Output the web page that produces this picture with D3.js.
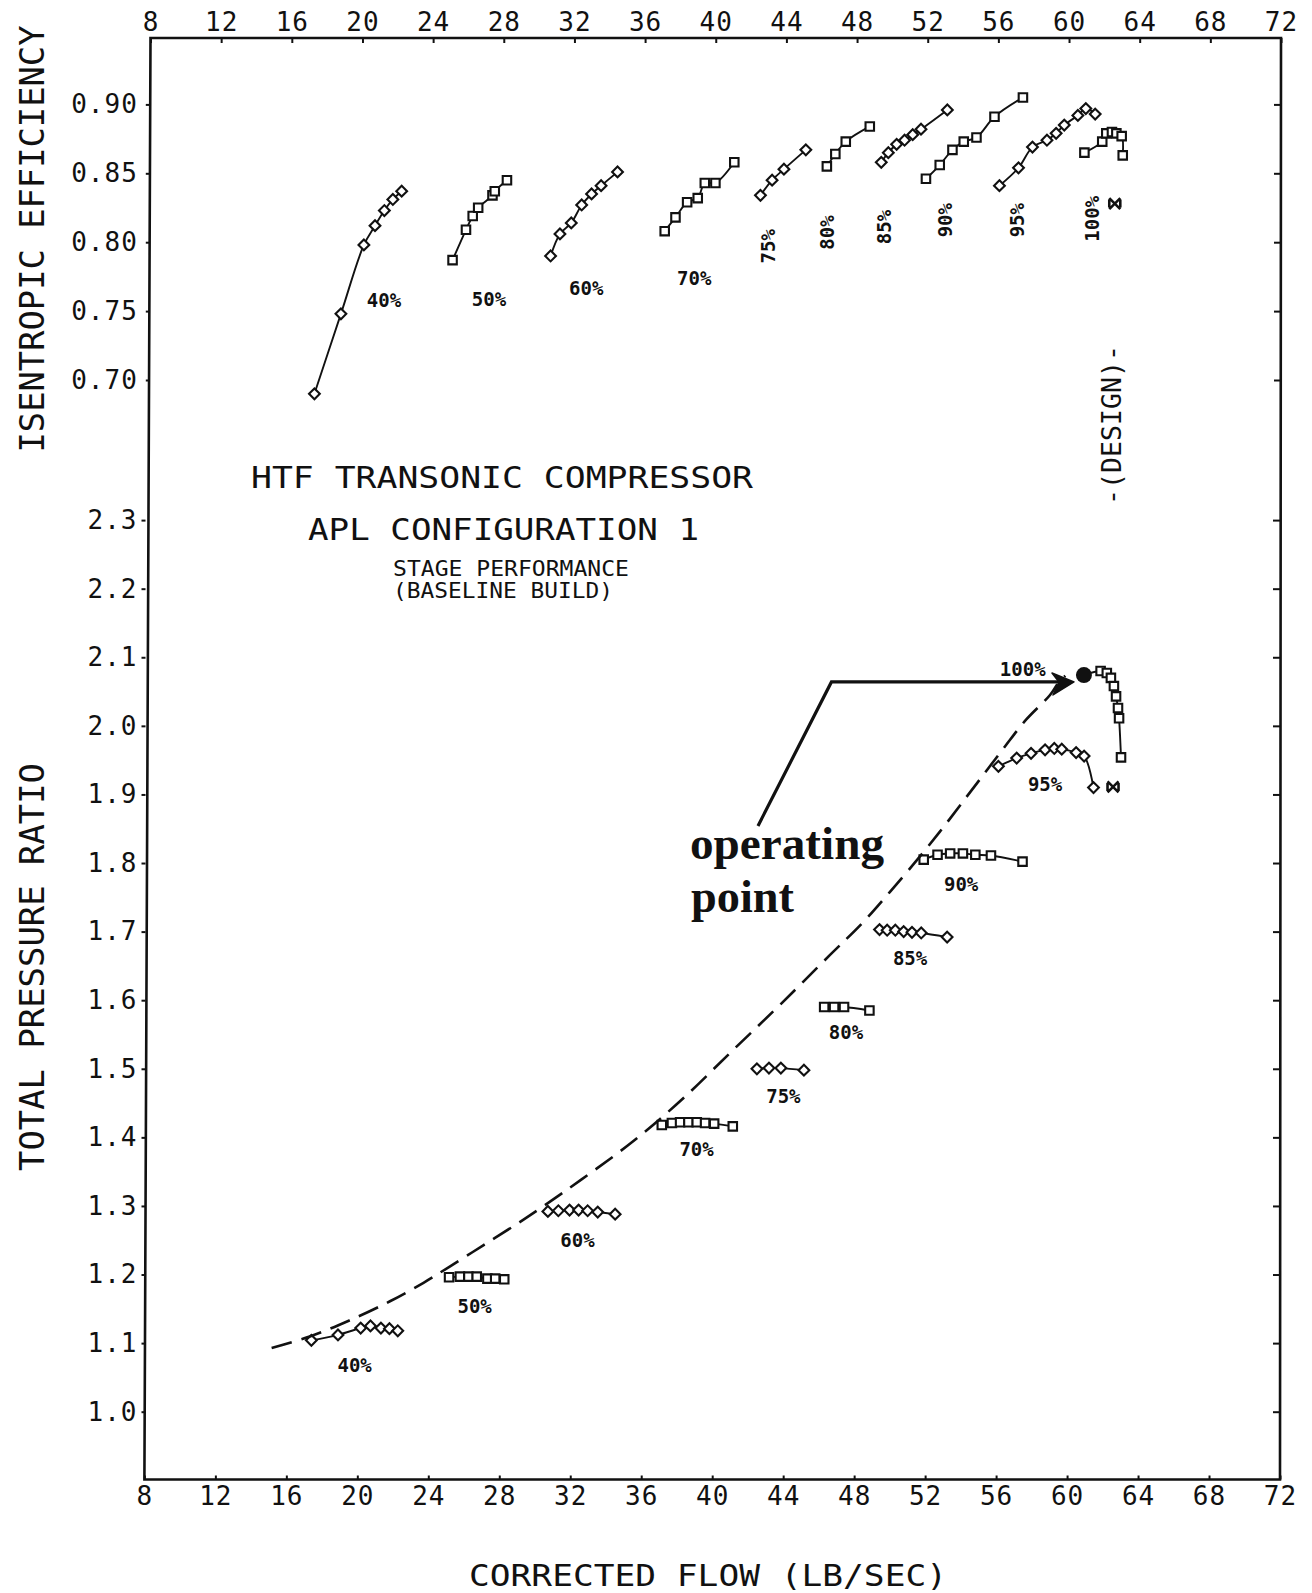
<!DOCTYPE html>
<html>
<head>
<meta charset="utf-8">
<title>HTF Transonic Compressor - Stage Performance</title>
<script src="https://cdn.jsdelivr.net/npm/d3@7/dist/d3.min.js"></script>
<style>
  html, body { margin: 0; padding: 0; background: #fff; }
  svg { display: block; }
</style>
</head>
<body>
<svg id="chart" width="1312" height="1593"></svg>
<script>
// ---------------- data ----------------
const speedLabels  = ["40%", "50%", "60%", "70%", "75%", "80%", "85%", "90%", "95%", "100%"];
const markerShapes = ["diamond", "square", "diamond", "square", "diamond", "square", "diamond", "square", "diamond", "square"];

// isentropic efficiency vs corrected flow (lb/sec), one row per speed line
const effFlow = [
  [17.28, 18.78, 20.08, 20.71, 21.24, 21.72, 22.22],
  [25.10, 25.86, 26.24, 26.55, 27.36, 27.49, 28.18],
  [30.65, 31.18, 31.82, 32.41, 32.97, 33.51, 34.44],
  [37.11, 37.72, 38.38, 38.98, 39.38, 39.98, 41.05],
  [42.53, 43.19, 43.86, 45.10],
  [46.29, 46.77, 47.36, 48.72],
  [49.37, 49.77, 50.24, 50.69, 51.15, 51.62, 53.11],
  [51.90, 52.68, 53.40, 54.04, 54.76, 55.78, 57.39],
  [56.06, 57.14, 57.93, 58.75, 59.27, 59.73, 60.50, 60.95, 61.48],
  [60.87, 61.88, 62.11, 62.43, 62.68, 62.98, 63.04]
];
const effValues = [
  [0.690, 0.748, 0.798, 0.812, 0.823, 0.831, 0.837],
  [0.787, 0.809, 0.819, 0.825, 0.834, 0.837, 0.845],
  [0.790, 0.806, 0.814, 0.827, 0.835, 0.841, 0.851],
  [0.808, 0.818, 0.829, 0.832, 0.843, 0.843, 0.858],
  [0.834, 0.845, 0.853, 0.867],
  [0.855, 0.864, 0.873, 0.884],
  [0.858, 0.865, 0.871, 0.874, 0.878, 0.882, 0.896],
  [0.846, 0.856, 0.867, 0.873, 0.876, 0.891, 0.905],
  [0.841, 0.854, 0.869, 0.874, 0.879, 0.885, 0.892, 0.897, 0.893],
  [0.865, 0.873, 0.879, 0.880, 0.879, 0.877, 0.863]
];

// total pressure ratio vs corrected flow (lb/sec)
const prFlow = [
  [17.41, 18.91, 20.19, 20.74, 21.33, 21.81, 22.28],
  [25.17, 25.78, 26.26, 26.73, 27.33, 27.77, 28.28],
  [30.74, 31.33, 31.96, 32.47, 32.98, 33.55, 34.53],
  [37.16, 37.73, 38.19, 38.66, 39.13, 39.60, 40.11, 41.16],
  [42.52, 43.20, 43.87, 45.17],
  [46.31, 46.87, 47.43, 48.86],
  [49.43, 49.86, 50.32, 50.79, 51.26, 51.78, 53.24],
  [51.92, 52.70, 53.41, 54.13, 54.83, 55.71, 57.49],
  [56.13, 57.16, 57.97, 58.76, 59.28, 59.70, 60.51, 60.96, 61.49],
  [60.96, 61.89, 62.24, 62.47, 62.64, 62.76, 62.87, 62.93, 63.04]
];
const prValues = [
  [1.104, 1.112, 1.122, 1.125, 1.122, 1.121, 1.118],
  [1.196, 1.197, 1.197, 1.197, 1.194, 1.194, 1.193],
  [1.292, 1.293, 1.294, 1.294, 1.293, 1.291, 1.288],
  [1.418, 1.421, 1.422, 1.422, 1.422, 1.421, 1.420, 1.416],
  [1.500, 1.501, 1.501, 1.498],
  [1.590, 1.590, 1.590, 1.585],
  [1.703, 1.702, 1.702, 1.700, 1.699, 1.698, 1.692],
  [1.805, 1.812, 1.814, 1.814, 1.812, 1.811, 1.802],
  [1.941, 1.953, 1.960, 1.965, 1.967, 1.966, 1.961, 1.956, 1.910],
  [2.074, 2.080, 2.077, 2.070, 2.058, 2.043, 2.026, 2.011, 1.954]
];

// where each speed-line tag sits (flow, value)
const effLabelFlow    = [21.22, 27.16, 32.67, 38.78, 42.97, 46.31, 49.53, 52.97, 57.06, 61.30];
const effLabelEff     = [0.758, 0.759, 0.767, 0.774, 0.797, 0.807, 0.811, 0.816, 0.816, 0.817];
const effLabelRotated = [false, false, false, false, true, true, true, true, true, true];
const prLabelFlow     = [19.85, 26.61, 32.41, 39.12, 44.01, 47.54, 51.15, 54.03, 58.76, 57.50];
const prLabelPR       = [1.068, 1.154, 1.251, 1.383, 1.461, 1.553, 1.661, 1.769, 1.915, 2.083];

// dashed surge line
const surgeFlow = [15.17, 17.36, 19.55, 21.84, 23.73, 25.23, 27.12, 29.01, 30.51, 32.60, 35.58, 38.37,
                   41.16, 43.85, 46.64, 48.48, 50.02, 51.72, 53.11, 54.41, 55.50, 56.50, 57.69, 59.04, 59.49, 59.90];
const surgePR   = [1.093, 1.110, 1.133, 1.161, 1.188, 1.212, 1.243, 1.274, 1.300, 1.338, 1.395, 1.457,
                   1.527, 1.594, 1.666, 1.713, 1.758, 1.810, 1.855, 1.899, 1.936, 1.970, 2.009, 2.045, 2.062, 2.073];

// design point and operating point
const designFlow = 62.59, designEff = 0.828, designPR = 1.911;
const operatingFlow = 60.95, operatingPR = 2.074;
// leader of the "operating point" callout: foot, elbow, arrow tip
const arrowFlow = [42.58, 46.72, 60.39];
const arrowPR   = [1.854, 2.064, 2.064];

// axis ticks
const flowTicks = d3.range(8, 73, 4);
const effTicks  = [0.70, 0.75, 0.80, 0.85, 0.90];
const prTicks   = d3.range(10, 24).map(d => d / 10);

// ---------------- layout ----------------
const svg = d3.select("#chart");
const ink = "#111";
const monoFont  = "'DejaVu Sans Mono', 'Liberation Mono', monospace";
const serifFont = "'Liberation Serif', 'DejaVu Serif', serif";

const frameTop = 38, frameBottom = 1479.5;
const xTop = d3.scaleLinear().domain([8, 72]).range([150.5, 1281]);   // efficiency panel
const xBot = d3.scaleLinear().domain([8, 72]).range([144.4, 1280]);   // pressure-ratio panel
const yEff = d3.scaleLinear().domain([0.70, 0.90]).range([380, 104.4]);
const yPR  = d3.scaleLinear().domain([1.0, 2.3]).range([1411.7, 520.1]);

svg.append("rect").attr("width", 1312).attr("height", 1593).attr("fill", "#fff");

// frame
svg.append("path")
  .attr("d", `M${xTop(8)},${frameTop}L${xTop(72)},${frameTop}L${xBot(72)},${frameBottom}L${xBot(8)},${frameBottom}Z`)
  .attr("fill", "none").attr("stroke", ink).attr("stroke-width", 2.6);

function styleAxis(g) {
  g.attr("font-family", monoFont).attr("font-size", 26);
  g.select(".domain").remove();
  g.selectAll(".tick line").attr("stroke", ink).attr("stroke-width", 2);
  g.selectAll(".tick text").attr("fill", ink).attr("letter-spacing", 1);
}

// flow axes (top and bottom)
svg.append("g").attr("transform", `translate(0,${frameTop})`)
  .call(d3.axisTop(xTop).tickValues(flowTicks).tickSize(-5).tickPadding(7).tickFormat(d3.format("d")))
  .call(styleAxis);
svg.append("g").attr("transform", `translate(0,${frameBottom})`)
  .call(d3.axisBottom(xBot).tickValues(flowTicks).tickSize(-4).tickPadding(7).tickFormat(d3.format("d")))
  .call(styleAxis);

// left axes
svg.append("g").attr("transform", "translate(149.8,0)")
  .call(d3.axisLeft(yEff).tickValues(effTicks).tickSize(4).tickPadding(8).tickFormat(d3.format(".2f")))
  .call(styleAxis);
svg.append("g").attr("transform", "translate(145.5,0)")
  .call(d3.axisLeft(yPR).tickValues(prTicks).tickSize(4).tickPadding(4).tickFormat(d3.format(".1f")))
  .call(styleAxis);

// right axes: inward ticks only
svg.append("g").attr("transform", `translate(${xTop(72)},0)`)
  .call(d3.axisRight(yEff).tickValues(effTicks).tickSize(-7).tickFormat(""))
  .call(styleAxis);
svg.append("g").attr("transform", `translate(${xBot(72)},0)`)
  .call(d3.axisRight(yPR).tickValues(prTicks).tickSize(-7).tickFormat(""))
  .call(styleAxis);

// ---------------- text ----------------
function label(parent, str, o) {
  const t = parent.append("text")
    .attr("x", o.x).attr("y", o.y)
    .attr("font-family", o.family || monoFont)
    .attr("font-size", o.size)
    .attr("font-weight", o.weight || "normal")
    .attr("text-anchor", o.anchor || "start")
    .attr("fill", ink)
    .text(str);
  if (o.length) t.attr("textLength", o.length).attr("lengthAdjust", o.adjust || "spacingAndGlyphs");
  if (o.baseline) t.attr("dominant-baseline", o.baseline);
  if (o.rotate) t.attr("transform", `rotate(${o.rotate},${o.x},${o.y})`);
  return t;
}

label(svg, "HTF TRANSONIC COMPRESSOR", { x: 251, y: 488, size: 31, length: 502 });
label(svg, "APL CONFIGURATION 1",      { x: 308, y: 540, size: 31, length: 391 });
label(svg, "STAGE PERFORMANCE",        { x: 393, y: 576, size: 21, length: 236 });
label(svg, "(BASELINE BUILD)",         { x: 393, y: 598, size: 21, length: 220 });

label(svg, "ISENTROPIC EFFICIENCY", { x: 44, y: 239, size: 33, anchor: "middle", rotate: -90, length: 427 });
label(svg, "TOTAL PRESSURE RATIO",  { x: 44, y: 967, size: 33, anchor: "middle", rotate: -90, length: 408 });
label(svg, "CORRECTED FLOW (LB/SEC)", { x: 469, y: 1586, size: 31, length: 478 });
label(svg, "-(DESIGN)-", { x: 1121, y: 425, size: 27, anchor: "middle", rotate: -90, length: 160 });

// ---------------- speed lines ----------------
const curve = d3.curveCatmullRom.alpha(0.5);
const effLine = d3.line().x(d => xTop(d[0])).y(d => yEff(d[1])).curve(curve);
const prLine  = d3.line().x(d => xBot(d[0])).y(d => yPR(d[1])).curve(curve);

const squarePath  = d3.symbol().type(d3.symbolSquare).size(72)();
const diamondPath = d3.symbol().type(d3.symbolSquare).size(58)();

const linesG   = svg.append("g").attr("fill", "none").attr("stroke", ink).attr("stroke-width", 1.9);
const markersG = svg.append("g").attr("fill", "#fff").attr("stroke", ink).attr("stroke-width", 2.1);
const tagsG    = svg.append("g");

function drawMarkers(points, x, y, shape) {
  markersG.append("g").selectAll("path").data(points).join("path")
    .attr("d", shape === "square" ? squarePath : diamondPath)
    .attr("transform", d => `translate(${x(d[0])},${y(d[1])})` + (shape === "diamond" ? " rotate(45)" : ""));
}

speedLabels.forEach((speed, i) => {
  const ep = d3.zip(effFlow[i], effValues[i]);
  const pp = d3.zip(prFlow[i], prValues[i]);
  linesG.append("path").attr("d", effLine(ep));
  linesG.append("path").attr("d", prLine(pp));
  drawMarkers(ep, xTop, yEff, markerShapes[i]);
  drawMarkers(pp, xBot, yPR, markerShapes[i]);

  label(tagsG, speed, {
    x: xTop(effLabelFlow[i]), y: yEff(effLabelEff[i]), size: 19, weight: "bold",
    anchor: "middle", baseline: "central", rotate: effLabelRotated[i] ? -90 : 0
  });
  label(tagsG, speed, {
    x: xBot(prLabelFlow[i]), y: yPR(prLabelPR[i]), size: 19, weight: "bold",
    anchor: "middle", baseline: "central"
  });
});

// surge line
svg.append("path")
  .attr("d", prLine(d3.zip(surgeFlow, surgePR)))
  .attr("fill", "none").attr("stroke", ink).attr("stroke-width", 2.6)
  .attr("stroke-dasharray", "21 10");

// design point crosses
const crossPath = "M-5.5,-5.5L5.5,5.5M5.5,-5.5L-5.5,5.5M-5.5,-4L-5.5,4M5.5,-4L5.5,4";
svg.append("path").attr("d", crossPath)
  .attr("transform", `translate(${xTop(designFlow)},${yEff(designEff)})`)
  .attr("fill", "none").attr("stroke", ink).attr("stroke-width", 2.6);
svg.append("path").attr("d", crossPath)
  .attr("transform", `translate(${xBot(designFlow)},${yPR(designPR)})`)
  .attr("fill", "none").attr("stroke", ink).attr("stroke-width", 2.6);

// operating point callout
const arrowPts = d3.zip(arrowFlow, arrowPR).map(d => [xBot(d[0]), yPR(d[1])]);
const tip = arrowPts[2];
svg.append("path")
  .attr("d", d3.line()([arrowPts[0], arrowPts[1], [tip[0] - 12, tip[1]]]))
  .attr("fill", "none").attr("stroke", ink).attr("stroke-width", 3.2).attr("stroke-linejoin", "miter");
svg.append("path")
  .attr("d", `M${tip[0]},${tip[1]}l-22,-9l7,9l-6,13z`)
  .attr("fill", ink).attr("stroke", ink).attr("stroke-width", 1.5).attr("stroke-linejoin", "round");
svg.append("circle")
  .attr("cx", xBot(operatingFlow)).attr("cy", yPR(operatingPR)).attr("r", 8)
  .attr("fill", ink);

label(svg, "operating", { x: 690, y: 859, family: serifFont, weight: "bold", size: 47, length: 194 });
label(svg, "point",     { x: 691, y: 912, family: serifFont, weight: "bold", size: 47, length: 103 });
</script>
</body>
</html>
